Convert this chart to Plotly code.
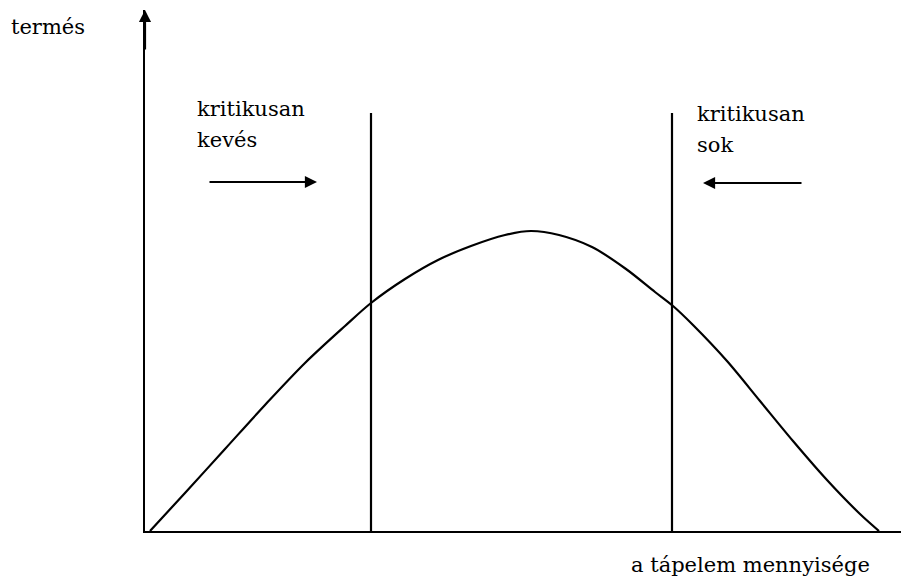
import plotly.graph_objects as go

# yield curve (schematic), x = amount of nutrient, y = yield
curve_x = [5, 40, 80, 120, 160, 200, 226, 260, 293, 326, 360, 386,
           414, 447, 481, 510, 528, 548, 582, 615, 648, 682, 715, 734]
curve_y = [0, 38, 82, 126, 168, 205, 228, 252, 271, 285, 296, 300,
           296, 284, 262, 239, 225, 206, 170, 130, 90, 51, 17, 0]

# critical limits (vertical lines)
limit_low_x = [226, 226]
limit_high_x = [527, 527]
limit_y = [0, 418]

# direction arrows: (tail x, tip x, y)
arrow_low = (63, 172, 349)
arrow_high = (658, 558, 348)

SERIF = "DejaVu Serif"
FONT = dict(family=SERIF, size=21, color="black")

fig = go.Figure()
fig.add_trace(go.Scatter(x=curve_x, y=curve_y, mode="lines",
                         line=dict(color="black", width=2.2, shape="spline", smoothing=0.9),
                         hoverinfo="skip"))
for lx in (limit_low_x, limit_high_x):
    fig.add_trace(go.Scatter(x=lx, y=limit_y, mode="lines",
                             line=dict(color="black", width=2.2), hoverinfo="skip"))

# arrows
for tail, tip, yy in (arrow_low, arrow_high):
    fig.add_annotation(x=tip, y=yy, ax=tail, ay=yy, xref="x", yref="y",
                       axref="x", ayref="y", text="", showarrow=True,
                       arrowhead=2, arrowsize=1.1, arrowwidth=2.2, arrowcolor="black")

# y-axis arrowhead
fig.add_annotation(x=0, y=521, ax=0, ay=480, xref="x", yref="y", axref="x", ayref="y",
                   text="", showarrow=True, arrowhead=2, arrowsize=1.1,
                   arrowwidth=2.2, arrowcolor="black")

# labels
labels = [
    (50, 422, "kritikusan"), (50, 391, "kevés"),
    (550, 417, "kritikusan"), (550, 386, "sok"),
]
for lx, ly, txt in labels:
    fig.add_annotation(x=lx, y=ly, xref="x", yref="y", text=txt, showarrow=False,
                       xanchor="left", yanchor="middle", font=FONT)

fig.add_annotation(x=-0.178, y=0.967, xref="paper", yref="paper", text="termés",
                   showarrow=False, xanchor="left", yanchor="middle", font=FONT)
fig.add_annotation(x=0.633, y=-0.066, xref="paper", yref="paper", text="a tápelem mennyisége",
                   showarrow=False, xanchor="left", yanchor="middle", font=FONT)

# page body has an 8px margin, so the figure is 8px smaller and shifted
fig.update_layout(
    width=901, height=580,
    margin=dict(l=137, r=0, t=2, b=57),
    font=dict(family=SERIF, size=21, color="black"),
    plot_bgcolor="white", paper_bgcolor="white",
    showlegend=False,
    xaxis=dict(range=[0, 764], showline=True, linecolor="black", linewidth=2.2,
               showgrid=False, zeroline=False, showticklabels=False, ticks=""),
    yaxis=dict(range=[0, 521], showline=True, linecolor="black", linewidth=2.2,
               showgrid=False, zeroline=False, showticklabels=False, ticks=""),
)

fig.write_html("out.html")
